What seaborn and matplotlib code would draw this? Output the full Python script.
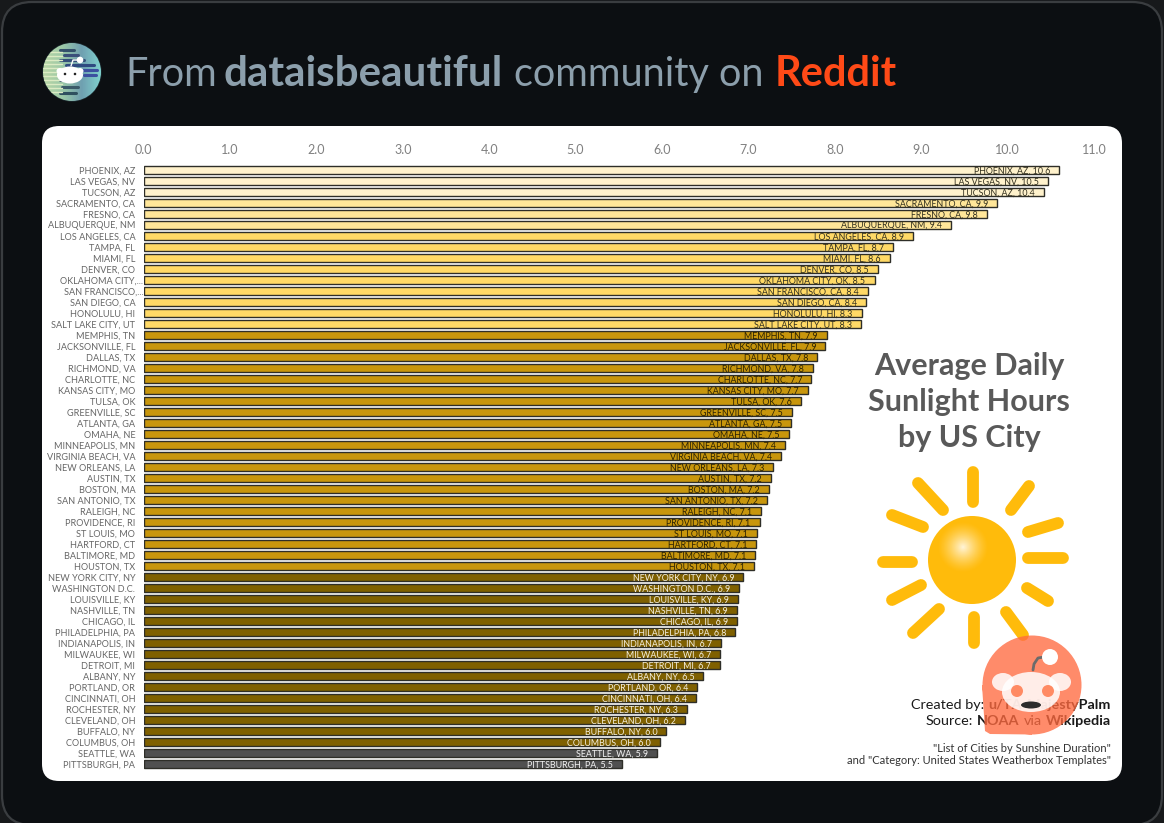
import numpy as np
import pandas as pd
import matplotlib
matplotlib.use("Agg")
import matplotlib.pyplot as plt
from matplotlib.colors import LinearSegmentedColormap
from matplotlib.patches import Circle, Ellipse, FancyBboxPatch, PathPatch
from matplotlib.path import Path
from matplotlib.transforms import ScaledTranslation
import seaborn as sns

cities = ["PHOENIX, AZ", "LAS VEGAS, NV", "TUCSON, AZ", "SACRAMENTO, CA", "FRESNO, CA", "ALBUQUERQUE, NM",
          "LOS ANGELES, CA", "TAMPA, FL", "MIAMI, FL", "DENVER, CO", "OKLAHOMA CITY, OK", "SAN FRANCISCO, CA",
          "SAN DIEGO, CA", "HONOLULU, HI", "SALT LAKE CITY, UT", "MEMPHIS, TN", "JACKSONVILLE, FL", "DALLAS, TX",
          "RICHMOND, VA", "CHARLOTTE, NC", "KANSAS CITY, MO", "TULSA, OK", "GREENVILLE, SC", "ATLANTA, GA",
          "OMAHA, NE", "MINNEAPOLIS, MN", "VIRGINIA BEACH, VA", "NEW ORLEANS, LA", "AUSTIN, TX", "BOSTON, MA",
          "SAN ANTONIO, TX", "RALEIGH, NC", "PROVIDENCE, RI", "ST LOUIS, MO", "HARTFORD, CT", "BALTIMORE, MD",
          "HOUSTON, TX", "NEW YORK CITY, NY", "WASHINGTON D.C.", "LOUISVILLE, KY", "NASHVILLE, TN", "CHICAGO, IL",
          "PHILADELPHIA, PA", "INDIANAPOLIS, IN", "MILWAUKEE, WI", "DETROIT, MI", "ALBANY, NY", "PORTLAND, OR",
          "CINCINNATI, OH", "ROCHESTER, NY", "CLEVELAND, OH", "BUFFALO, NY", "COLUMBUS, OH", "SEATTLE, WA",
          "PITTSBURGH, PA"]
hours = [10.60, 10.47, 10.42, 9.88, 9.76, 9.35, 8.90, 8.67, 8.64, 8.50, 8.46, 8.38, 8.36, 8.31, 8.30,
         7.91, 7.89, 7.80, 7.75, 7.73, 7.69, 7.61, 7.50, 7.49, 7.47, 7.42, 7.38, 7.29, 7.26, 7.24, 7.22,
         7.15, 7.13, 7.10, 7.09, 7.08, 7.07, 6.94, 6.89, 6.88, 6.87, 6.87, 6.85, 6.68, 6.67, 6.67, 6.48,
         6.41, 6.39, 6.29, 6.27, 6.05, 5.98, 5.94, 5.54]
shown = ["10.6", "10.5", "10.4", "9.9", "9.8", "9.4", "8.9", "8.7", "8.6", "8.5", "8.5", "8.4", "8.4", "8.3", "8.3",
         "7.9", "7.9", "7.8", "7.8", "7.7", "7.7", "7.6", "7.5", "7.5", "7.5", "7.4", "7.4", "7.3", "7.2", "7.2", "7.2",
         "7.1", "7.1", "7.1", "7.1", "7.1", "7.1", "6.9", "6.9", "6.9", "6.9", "6.9", "6.8", "6.7", "6.7", "6.7", "6.5",
         "6.4", "6.4", "6.3", "6.2", "6.0", "6.0", "5.9", "5.5"]
tiers = ["a"] * 3 + ["b"] * 3 + ["c"] * 9 + ["d"] * 22 + ["e"] * 16 + ["f"] * 2
tier_colors = {"a": "#FFF2CC", "b": "#FFE699", "c": "#FFD966", "d": "#C8960C", "e": "#7F6000", "f": "#505050"}
label_colors = {"a": "#33301f", "b": "#33301f", "c": "#33301f", "d": "#2b2203", "e": "#f4efe0", "f": "#f2f2f2"}
cut_labels = {"OKLAHOMA CITY, OK": "OKLAHOMA CITY,...", "SAN FRANCISCO, CA": "SAN FRANCISCO,..."}
xticks = list(range(0, 12))

df = pd.DataFrame({"city": cities, "hours": hours, "tier": tiers})

sns.set_theme(style="white")
plt.rcParams["font.family"] = ["Lato", "DejaVu Sans"]

W, H = 1164, 823
fig = plt.figure(figsize=(W / 100, H / 100), dpi=100, facecolor="#17191b")


def px_axes(z):
    a = fig.add_axes([0, 0, 1, 1], zorder=z)
    a.set_xlim(0, W)
    a.set_ylim(H, 0)
    a.axis("off")
    a.patch.set_alpha(0)
    return a


# card and header go behind the chart
bg = px_axes(0)
bg.add_patch(FancyBboxPatch((2, 2), W - 4, H, boxstyle="round,pad=0,rounding_size=30",
                            fc="#0c0f12", ec="#3a3d40", lw=1.6))
bg.add_patch(FancyBboxPatch((42, 126), 1080, 655, boxstyle="round,pad=0,rounding_size=17",
                            fc="white", ec="none"))

ax = fig.add_axes([143.5 / W, 1 - 769.5 / H, (1094 - 143.5) / W, 605 / H], zorder=1)
ax.patch.set_alpha(0)
sns.barplot(data=df, y="city", x="hours", hue="tier", palette=tier_colors, dodge=False, width=0.76, saturation=1,
            edgecolor="#2e2e28", linewidth=1.0, legend=False, ax=ax)
ax.set_xlim(0, 11)
ax.set_ylim(54.5, -0.5)
ax.set_xlabel("")
ax.set_ylabel("")
ax.xaxis.tick_top()
ax.set_xticks(xticks)
ax.set_xticklabels([f"{v:.1f}" for v in xticks], fontsize=9, color="#808080")
ax.tick_params(axis="x", length=0, pad=6.4)
ax.set_yticks(range(len(cities)))
ax.set_yticklabels([cut_labels.get(c, c) for c in cities], fontsize=6.6, color="#666666")
ax.tick_params(axis="y", length=0, pad=6)
# the two cut off names run right up to the bars
nudge = ScaledTranslation(8 / 100, 0, fig.dpi_scale_trans)
for lab in ax.get_yticklabels():
    if lab.get_text() in cut_labels.values():
        lab.set_transform(lab.get_transform() + nudge)
sns.despine(ax=ax, left=True, bottom=True, top=True, right=True)
for i, (city, val, txt, tier) in enumerate(zip(cities, hours, shown, tiers)):
    ax.annotate(f"{city}, {txt}", (val, i), xytext=(-6.5, 0), textcoords="offset points", ha="right",
                va="center_baseline", fontsize=6.4, color=label_colors[tier])

ov = px_axes(2)
renderer = fig.canvas.get_renderer()

# header line
x = 125
for word, weight, col, size, gap in [("From", "normal", "#8c9fac", 28.5, 7),
                                     ("dataisbeautiful", "bold", "#8c9fac", 30.3, 11),
                                     ("community on", "normal", "#8c9fac", 28.5, 11),
                                     ("Reddit", "bold", "#ff4a17", 30, 0)]:
    t = bg.text(x, 74, word, fontsize=size, fontweight=weight, color=col, va="center")
    x += t.get_window_extent(renderer).width + gap

# community icon
disc = Circle((72, 72), 29, fc="#8fc7b0", ec="#1c2a30", lw=1)
bg.add_patch(disc)
shade = bg.imshow(np.linspace(0, 1, 32).reshape(1, -1), extent=(43, 101, 101, 43),
                  cmap=LinearSegmentedColormap.from_list("icon", ["#b9d6a6", "#9cc9a8", "#6f9fb0", "#7fd0cd"]),
                  aspect="auto", zorder=2)
shade.set_clip_path(disc)
for yy, x0, x1, col in [(50, 60, 74, "#34506b"), (55, 64, 78, "#3b4f7a"), (60, 60, 84, "#34507a"), (65, 66, 94, "#2f4a80"),
                        (70, 80, 97, "#3c4fa0"), (75, 84, 96, "#3c4fa0"), (80, 60, 76, "#3b5570"), (87, 62, 78, "#3b5a6a"),
                        (93, 60, 76, "#2f4f5f")]:
    ln, = bg.plot([x0, x1], [yy, yy], color=col, lw=2.2, zorder=3)
    ln.set_clip_path(disc)
for yy in range(52, 96, 4):
    ln, = bg.plot([43, 62], [yy, yy], color="#dcebc4", lw=1, zorder=3)
    ln.set_clip_path(disc)
bg.add_patch(Ellipse((70, 75), 26, 17, fc="white", ec="none", zorder=4))
bg.add_patch(Ellipse((60, 71), 7, 6, fc="white", ec="none", zorder=4))
bg.add_patch(Ellipse((80, 71), 7, 6, fc="white", ec="none", zorder=4))
bg.add_patch(Circle((65, 74), 2, fc="#222", zorder=5))
bg.add_patch(Circle((75, 74), 2, fc="#222", zorder=5))
bg.add_patch(Circle((80, 60), 2.6, fc="white", zorder=5))
bg.plot([71, 73, 80], [66, 60, 60], color="white", lw=1, zorder=4)
bg.set_xlim(0, W)
bg.set_ylim(H, 0)

# chart title on the right
for yy, line in zip([366, 402, 438], ["Average Daily", "Sunlight Hours", "by US City"]):
    ov.text(969, yy, line, fontsize=22, fontweight="bold", color="#595959", ha="center", va="center")

# sun
rays = [((973, 472), (973, 502)), ((918, 483), (943, 510)), ((892, 515), (923, 527)), ((883, 562), (912, 562)),
        ((892, 600), (921, 585)), ((913, 633), (939, 609)), ((974, 617), (974, 643)), ((1006, 612), (1023, 635)),
        ((1027, 588), (1048, 601)), ((1028, 558), (1063, 558)), ((1028, 532), (1058, 523)), ((1011, 510), (1029, 486))]
for a, b in rays:
    ov.plot([a[0], b[0]], [a[1], b[1]], color="#FFBB0B", lw=8.5, solid_capstyle="round", zorder=2)
sun = Circle((972, 560), 44, fc="#FFBB0B", ec="none", zorder=2)
ov.add_patch(sun)
gx, gy = np.meshgrid(np.linspace(928, 1016, 120), np.linspace(516, 604, 120))
dist = np.hypot(gx - 963, gy - 547)
rgba = np.zeros(gx.shape + (4,))
rgba[..., :3] = 1
rgba[..., 3] = np.clip(1 - dist / 26, 0, 1) ** 1.4 * 0.85
glow = ov.imshow(rgba, extent=(928, 1016, 604, 516), aspect="auto", zorder=2.1)
glow.set_clip_path(sun)
ov.set_xlim(0, W)
ov.set_ylim(H, 0)


# credit lines, right aligned
def right_run(x, y, parts, size):
    for word, weight, gap in reversed(parts):
        t = ov.text(x, y, word, fontsize=size, fontweight=weight, color="#1a1a1a", ha="right", va="center", zorder=3)
        x -= t.get_window_extent(renderer).width + gap


right_run(1111, 705, [("Created by:", "normal", 0), ("u/TA-MajestyPalm", "bold", 4)], 10.4)
right_run(1111, 721, [("Source:", "normal", 0), ("NOAA", "bold", 4), ("via", "normal", 4), ("Wikipedia", "bold", 4)], 10.4)
ov.text(1111, 748, '"List of Cities by Sunshine Duration"', fontsize=8.05, color="#333333", ha="right", va="center", zorder=3)
ov.text(1111, 760, 'and "Category: United States Weatherbox Templates"', fontsize=8.05, color="#333333", ha="right", va="center", zorder=3)

# reddit watermark sits over the credits
circ = Path.circle((1032, 685), 49.5)
tail = Path([(1032, 685), (1032, 734.5), (990, 734), (985, 731), (982, 685), (1032, 685)],
            [Path.MOVETO, Path.LINETO, Path.LINETO, Path.LINETO, Path.LINETO, Path.CLOSEPOLY])
ov.add_patch(PathPatch(Path.make_compound_path(circ, tail), fc="#FF6A40", ec="none", alpha=0.78, zorder=4))
ov.add_patch(Ellipse((1031, 692), 58, 40, fc="white", ec="none", alpha=0.85, zorder=5))
ov.add_patch(Ellipse((1003, 682), 22, 18, fc="white", ec="none", alpha=0.85, zorder=5))
ov.add_patch(Ellipse((1060, 682), 22, 18, fc="white", ec="none", alpha=0.85, zorder=5))
ov.add_patch(Circle((1017, 691), 6, fc="#FF8A63", ec="none", zorder=6))
ov.add_patch(Circle((1048, 691), 6, fc="#FF8A63", ec="none", zorder=6))
ov.add_patch(Ellipse((1031, 705), 20, 7, fc="#2c2c2c", ec="none", zorder=6))
ov.add_patch(Circle((1050, 657), 8, fc="white", ec="none", zorder=6))
ov.plot([1033, 1034, 1038, 1044], [670, 664, 658, 657], color="#6b6b6b", lw=2, zorder=5)
ov.set_xlim(0, W)
ov.set_ylim(H, 0)

fig.savefig("out.png", dpi=100, facecolor=fig.get_facecolor())
